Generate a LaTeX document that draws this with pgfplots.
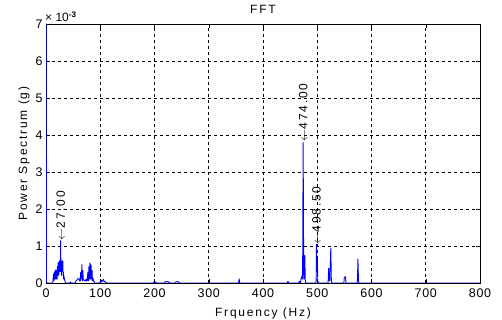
\documentclass[border=0pt]{standalone}
\usepackage{pgfplots}
\pgfplotsset{compat=1.18}
\usepackage{fontspec}
\setmainfont{Liberation Sans}
\newfontfamily\lab[LetterSpace=15]{Liberation Sans}
\newfontfamily\tck[LetterSpace=6]{Liberation Sans}
\pgfplotstableread{
f v
0 7.6
1 0.02
2 0
12 0
13 0.05
13.5 0.2
14 0.25
14.5 0.05
15 0.1
15.5 0.3
16 0.3
16.5 0.1
17 0.2
17.5 0.35
18 0.35
18.5 0.1
19 0.15
19.5 0.35
20 0.3
20.5 0.1
21 0.45
21.5 0.2
22 0.3
22.5 0.55
23 0.55
23.5 0.2
24 0.4
24.5 0.6
25 0.6
25.5 0.3
26 0.5
26.5 0.3
27 1.15
27.5 0.3
28 0.55
28.5 0.2
29 0.6
29.5 0.3
30 0.45
30.5 0.6
31 0.6
31.5 0.2
32 0.3
32.5 0.1
33 0.2
34 0.1
35 0.05
36 0
44 0
45 0.03
46 0
54 0
55 0.05
57 0.08
59 0.12
61 0.1
62 0.05
63 0.15
63.5 0.05
64 0.3
64.5 0.1
65 0.2
65.5 0.1
66 0.5
66.5 0.1
67 0.25
67.5 0.05
68 0.35
68.5 0.1
69 0.1
70 0.08
72 0.05
74 0.1
75 0.05
76 0.15
76.5 0.05
77 0.3
77.5 0.1
78 0.2
78.5 0.05
79 0.45
79.5 0.15
80 0.35
80.5 0.1
81 0.55
81.5 0.2
82 0.4
82.5 0.1
83 0.5
83.5 0.15
84 0.3
84.5 0.1
85 0.35
85.5 0.05
86 0.15
87 0.1
88 0.05
90 0
99 0
100 0.03
102 0.08
103 0.02
104 0.06
106 0.1
107 0.03
108 0.05
110 0.02
112 0
198 0
200 0.04
202 0.02
205 0
218 0
220 0.04
222 0.03
225 0.04
228 0
238 0
240 0.03
243 0.04
246 0
355 0
356 0.12
357 0
445 0
446 0.05
447 0
466 0
467 0.05
469 0
470 0.1
472 0.2
473 0.1
474 3.8
475 0.3
476 0.1
477 0.75
478 0.05
479 0
497 0
498 0.05
498.5 1.05
499 0.3
500 0.7
501 0.05
502 0
520 0
521 0.4
522 0.1
523 0.05
525 0.95
526 0.05
527 0
549 0
550 0.17
551 0.15
552 0.17
553 0
573 0
574 0.05
575 0.65
576 0.05
577 0
800 0
}\spec
\begin{document}
\begin{tikzpicture}
\begin{axis}[
  name=ax,
  scale only axis,
  width=434pt, height=259pt,
  xmin=0, xmax=800, ymin=0, ymax=7,
  xtick={0,100,...,800}, ytick={0,1,...,7},
  grid=major,
  major grid style={black, dash pattern=on 3pt off 3pt, line width=0.7pt},
  axis line style={black, line width=0.7pt},
  tick style={black},
  tick align=inside,
  major tick length=4pt,
  font=\fontsize{12}{14}\selectfont,
  tick label style={font=\fontsize{12.5}{14}\selectfont\tck},
  xticklabel style={yshift=-2pt},
  /pgf/number format/assume math mode=true,
  title={\lab FFT},
  title style={at={(0.5,1)}, anchor=south, yshift=1pt},
  xlabel={\lab Frquency (Hz)},
  ylabel={\lab Power Spectrum (g)},
  xlabel style={yshift=-4pt},
  ylabel style={yshift=-1pt},
  clip=true,
]
\addplot[blue, line width=0.9pt, line join=bevel] table[x=f, y=v] {\spec};
\node[rotate=90, anchor=west, inner sep=1pt, font=\fontsize{12}{14}\selectfont] at (axis cs:27,1.12) {$\leftarrow$\lab 27.00};
\node[rotate=90, anchor=west, inner sep=1pt, font=\fontsize{12}{14}\selectfont] at (axis cs:474,3.8) {$\leftarrow$\lab 474.00};
\node[rotate=90, anchor=west, inner sep=1pt, font=\fontsize{12}{14}\selectfont] at (axis cs:498.5,1.02) {$\leftarrow$\lab 498.50};
\end{axis}
\node[anchor=south west, inner sep=1pt, font=\fontsize{12}{14}\selectfont] at ([xshift=-2pt,yshift=1pt]ax.north west) {\texttimes\ 10\textsuperscript{\textbf{-3}}};
\pgfresetboundingbox
\path[use as bounding box] ([shift={(-46pt,-37pt)}]ax.south west) rectangle ([shift={(22pt,24pt)}]ax.north east);
\end{tikzpicture}
\end{document}
